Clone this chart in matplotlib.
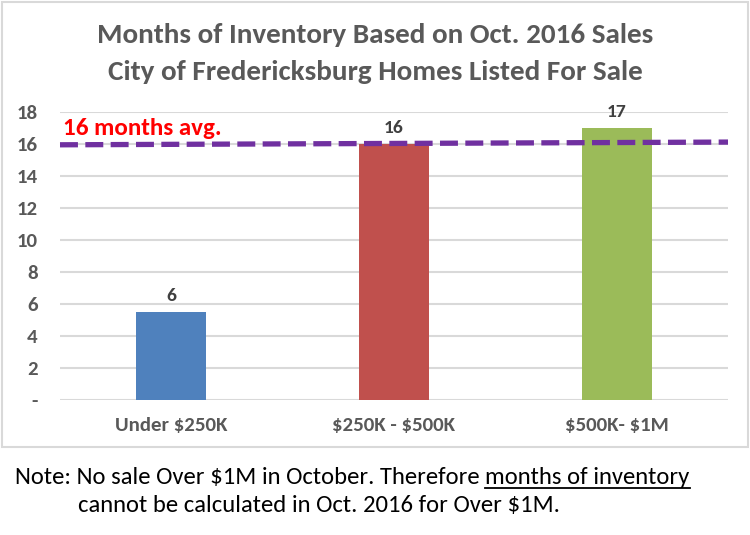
import matplotlib
matplotlib.use("Agg")
import matplotlib.pyplot as plt
from matplotlib.patches import Rectangle

plt.rcParams['font.family'] = ['Carlito', 'Liberation Sans Narrow', 'Open Sans', 'DejaVu Sans']

categories = ["Under \\$250K", "\\$250K - \\$500K", "\\$500K- \\$1M"]
months = [5.5, 16, 17]
value_labels = ["6", "16", "17"]
bar_colors = ["#4F81BD", "#C0504D", "#9BBB59"]
avg_line = [15.95, 16.12]
yticks = [0, 2, 4, 6, 8, 10, 12, 14, 16, 18]
ytick_labels = ["-"] + [str(v) for v in yticks[1:]]

W, H = 750, 535
fig = plt.figure(figsize=(W / 100, H / 100), dpi=100)
fig.patch.set_facecolor("white")

# chart frame
fig.patches.append(Rectangle((2 / W, 1 - 447 / H), 746 / W, 445 / H,
                             transform=fig.transFigure, fill=False,
                             edgecolor="#D9D9D9", lw=1.5))

ax = fig.add_axes([60 / W, 1 - 400 / H, 668 / W, 288 / H])
x = range(len(categories))
ax.bar(x, months, width=0.315, color=bar_colors, zorder=3)
for i, (m, lab) in enumerate(zip(months, value_labels)):
    ax.text(i, m + 0.5, lab, ha="center", va="bottom", fontsize=14,
            fontweight="bold", color="#404040", clip_on=False)

ax.plot([-0.5, 2.5], avg_line, color="#7030A0", lw=3.8, dashes=(3.4, 1.4),
        zorder=4, clip_on=False, solid_capstyle="butt", dash_capstyle="butt")
ax.text(-0.485, 16.3, "16 months avg.", color="#FF0000", fontsize=18,
        fontweight="bold", ha="left", va="bottom")

ax.set_xlim(-0.5, 2.5)
ax.set_ylim(0, 18)
ax.set_yticks(yticks)
ax.set_yticklabels(ytick_labels)
ax.set_xticks(list(x))
ax.set_xticklabels(categories)
ax.yaxis.grid(True, color="#D9D9D9", lw=1.5, zorder=0)
ax.set_axisbelow(True)
for s in ax.spines.values():
    s.set_visible(False)
ax.tick_params(axis="both", length=0, labelsize=15, labelcolor="#595959")
ax.tick_params(axis="y", pad=16)
ax.tick_params(axis="x", pad=12)
for t in ax.get_xticklabels() + ax.get_yticklabels():
    t.set_fontweight("bold")

fig.text(375 / W, 1 - 35 / H, "Months of Inventory Based on Oct. 2016 Sales",
         ha="center", va="center", fontsize=21, fontweight="bold", color="#595959")
fig.text(375 / W, 1 - 72 / H, "City of Fredericksburg Homes Listed For Sale",
         ha="center", va="center", fontsize=21, fontweight="bold", color="#595959")

# note under the chart, part of it underlined
t1 = fig.text(15 / W, 1 - 478 / H, "Note: No sale Over \\$1M in October. Therefore ",
              ha="left", va="center", fontsize=17.7, color="black")
fig.canvas.draw()
r = fig.canvas.get_renderer()
bb = t1.get_window_extent(r)
t2 = fig.text(bb.x1 / W, 1 - 478 / H, "months of inventory",
              ha="left", va="center", fontsize=17.7, color="black")
fig.canvas.draw()
bb2 = t2.get_window_extent(r)
fig.add_artist(plt.Line2D([bb2.x0 / W, bb2.x1 / W],
                          [(bb2.y0 + 1) / H, (bb2.y0 + 1) / H],
                          transform=fig.transFigure, color="black", lw=1.3))
fig.text(78 / W, 1 - 506 / H, "cannot be calculated in Oct. 2016 for Over \\$1M.",
         ha="left", va="center", fontsize=17.7, color="black")

fig.savefig("out.png", dpi=100)
